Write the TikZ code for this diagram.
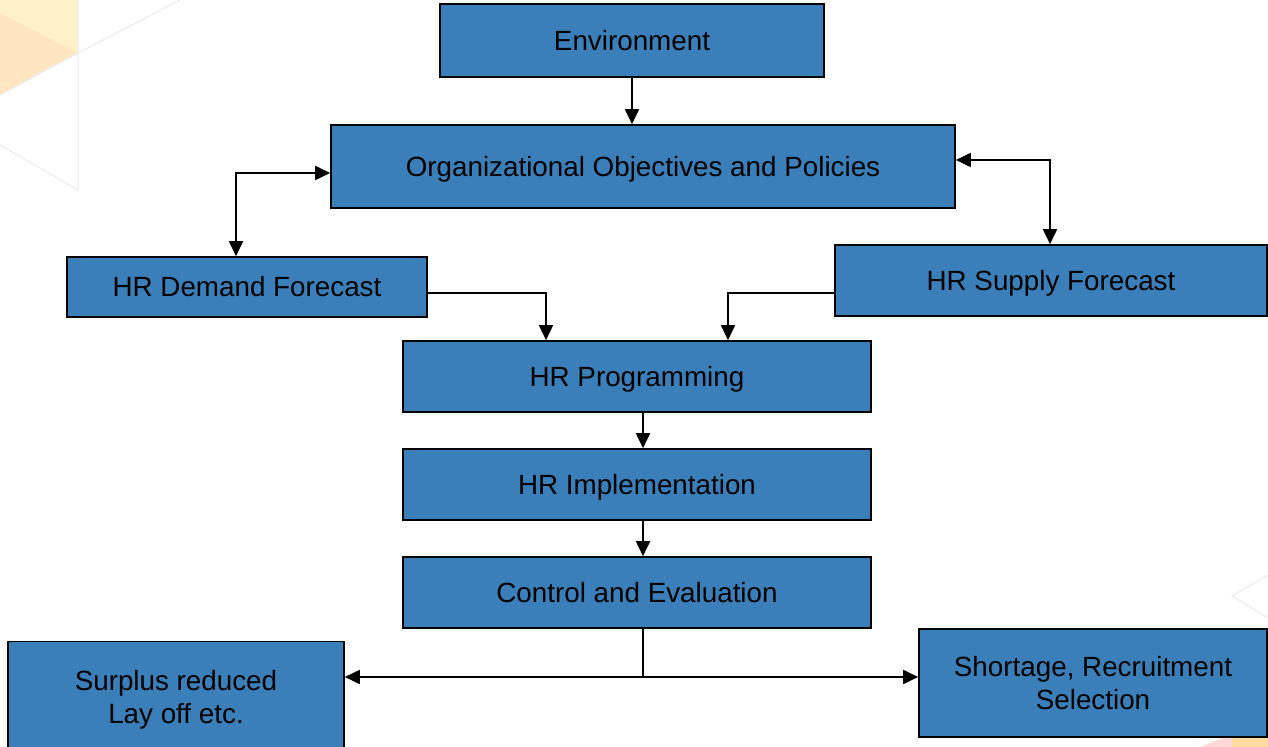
\documentclass[tikz,border=0pt]{standalone}
\usepackage{fontspec}
\setmainfont{Liberation Sans}
\usetikzlibrary{arrows.meta}
\definecolor{boxblue}{RGB}{58,127,185}
\definecolor{decoY}{RGB}{255,242,200}
\definecolor{decoO}{RGB}{255,230,192}
\definecolor{decoG}{RGB}{236,236,236}
\tikzset{
  box/.style={draw=black, line width=0.8pt, fill=boxblue, inner sep=0pt, align=center,
    font=\fontsize{13.9}{16.5}\selectfont, text height=10pt, text depth=0pt},
  twoline/.style={text height=26.5pt, text depth=0pt},
  conn/.style={line width=0.9pt, black},
  tip/.tip={Triangle[length=7.5pt,width=7pt]},
  arr/.style={conn, -tip},
  biarr/.style={conn, tip-tip}
}
\begin{document}
\begin{tikzpicture}[x=0.5pt,y=-0.5pt]
\useasboundingbox (0,0) rectangle (1268,747);
% background decoration
\fill[decoY] (0,0) -- (78,0) -- (78,53) -- (0,95) -- cycle;
\fill[decoO] (0,13) -- (78,53) -- (0,95) -- cycle;
\draw[decoG, line width=0.6pt] (78,0) -- (78,190) -- (0,145);
\draw[decoG, line width=0.6pt] (0,95) -- (78,53) -- (180,0);
\draw[decoG, line width=0.6pt] (1268,575) -- (1232,596) -- (1268,618);
\fill[decoY!80!orange] (1232,737) -- (1268,737) -- (1268,747) -- (1232,747) -- cycle;
\fill[red!15] (1200,747) -- (1225,737) -- (1232,737) -- (1232,747) -- cycle;

% nodes
\node[box, minimum width=192pt, minimum height=36.5pt] (env) at (632,40.5) {Environment};
\node[box, minimum width=312pt, minimum height=41.5pt] (org) at (643,166.5) {Organizational Objectives and Policies};
\node[box, minimum width=180pt, minimum height=30pt] (dem) at (247,287) {HR Demand Forecast};
\node[box, minimum width=216pt, minimum height=35.5pt] (sup) at (1051,280.5) {HR Supply Forecast};
\node[box, minimum width=234pt, minimum height=35.5pt] (prog) at (637,376.5) {HR Programming};
\node[box, minimum width=234pt, minimum height=35.5pt] (impl) at (637,484.5) {HR Implementation};
\node[box, minimum width=234pt, minimum height=35.5pt] (ctrl) at (637,592.5) {Control and Evaluation};
\node[box, twoline, minimum width=168pt, minimum height=55pt] (sur) at (176,696.5) {Surplus reduced\\Lay off etc.};
\node[box, twoline, minimum width=174pt, minimum height=54pt] (sho) at (1093,683) {Shortage, Recruitment\\Selection};

% connectors
\draw[arr] (env.south) -- (env.south |- org.north);
\coordinate (lc) at (236,173);
\draw[biarr] (dem.north -| lc) -- (lc) -- (lc -| org.west);
\coordinate (rc) at (1050,160);
\draw[biarr] (org.east |- rc) -- (rc) -- (rc |- sup.north);
\coordinate (dc) at (546,293);
\draw[arr, line width=0.75pt] (dem.east |- dc) -- (dc) -- (dc |- prog.north);
\coordinate (sc) at (728,293);
\draw[arr, line width=0.75pt] (sup.west |- sc) -- (sc) -- (sc |- prog.north);
\coordinate (pc) at (643,0);
\draw[arr] (prog.south -| pc) -- (impl.north -| pc);
\draw[arr] (impl.south -| pc) -- (ctrl.north -| pc);
\coordinate (cc) at (643,677);
\draw[conn, line width=0.75pt] (ctrl.south -| cc) -- (cc);
\draw[arr] (cc) -- (cc -| sur.east);
\draw[arr] (cc) -- (cc -| sho.west);
\end{tikzpicture}
\end{document}
